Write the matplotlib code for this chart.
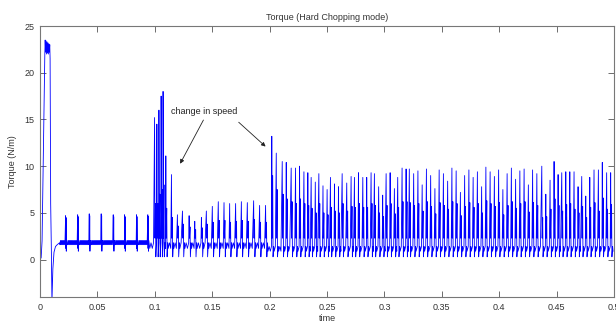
"""Torque waveform, hard chopping mode (MATLAB style figure)."""
import matplotlib
matplotlib.use("Agg")
import matplotlib.pyplot as plt

# start-up transient (time, torque)
start_t = [0.0, 0.0010, 0.0018, 0.0024, 0.0030, 0.0036, 0.0042, 0.0045, 0.0049, 0.0053,
           0.0057, 0.0061, 0.0065, 0.0069, 0.0073, 0.0077, 0.0081, 0.0085, 0.0088, 0.0093,
           0.0099, 0.0104, 0.0112, 0.0122, 0.0135, 0.0150, 0.0170]
start_y = [0.0, 0.2, 2.0, 6.8, 12.0, 17.0, 22.0, 23.5, 22.2, 23.4,
           22.0, 23.3, 22.1, 23.2, 22.0, 23.1, 22.2, 23.0, 21.5, 6.0,
           1.0, -4.5, -1.0, 0.8, 1.4, 1.6, 1.8]

# constant speed: spikes on a ~1.8 Nm floor
seg1_times = [0.0223, 0.0328, 0.0429, 0.0533, 0.0638, 0.0737, 0.0841, 0.0939]
seg1_peaks = [4.7, 4.8, 4.9, 4.9, 4.8, 4.8, 4.8, 4.8]

# speed change at 0.1 s
seg2_times = [0.0998, 0.1018, 0.1036, 0.1055, 0.1072, 0.1096, 0.1145, 0.1197, 0.1241,
              0.1299, 0.1348, 0.1406, 0.1449, 0.1501, 0.1553, 0.1603, 0.1652, 0.1704,
              0.1754, 0.1806, 0.1861, 0.1913, 0.1965]
seg2_peaks = [15.2, 14.5, 16.0, 17.5, 18.0, 11.1, 9.1, 4.8, 5.2,
              4.7, 4.1, 4.5, 5.2, 5.7, 6.2, 6.1, 6.0, 6.0,
              6.2, 6.1, 6.3, 5.8, 5.8]
seg2_second = [6.0, 6.0, 7.0, 7.5, 8.0, 5.5, 4.5, 3.6, 3.8,
               3.5, 3.2, 3.4, 3.8, 4.0, 4.2, 4.2, 4.0, 4.1,
               4.2, 4.1, 4.3, 4.0, 4.0]

# second change at 0.2 s
seg3_times = [0.2019, 0.2058, 0.2110, 0.2145, 0.2188, 0.2226, 0.2261, 0.2299, 0.2333,
              0.2362, 0.2398, 0.2429, 0.2465, 0.2501, 0.2530, 0.2565, 0.2600, 0.2632,
              0.2672, 0.2710, 0.2739, 0.2774, 0.2812, 0.2846, 0.2884, 0.2913, 0.2950,
              0.2985, 0.3015, 0.3050, 0.3087, 0.3116, 0.3154, 0.3189, 0.3217, 0.3255,
              0.3292, 0.3329, 0.3366, 0.3403, 0.3440, 0.3477, 0.3514, 0.3551, 0.3588,
              0.3625, 0.3662, 0.3699, 0.3736, 0.3773, 0.3810, 0.3847, 0.3884, 0.3921,
              0.3958, 0.3995, 0.4032, 0.4069, 0.4106, 0.4143, 0.4180, 0.4217, 0.4254,
              0.4291, 0.4328, 0.4371, 0.4406, 0.4443, 0.4478, 0.4513, 0.4545, 0.4580,
              0.4615, 0.4652, 0.4687, 0.4719, 0.4754, 0.4789, 0.4826, 0.4864, 0.4898,
              0.4936, 0.4971]
seg3_peaks = [13.2, 11.4, 10.5, 10.4, 9.8, 9.8, 10.0, 9.4, 9.3,
              8.8, 8.3, 9.2, 7.9, 7.5, 8.8, 8.1, 7.8, 9.2,
              8.2, 8.9, 8.8, 9.3, 8.8, 8.8, 9.3, 9.2, 7.8,
              6.9, 9.2, 9.3, 7.6, 8.8, 9.8, 9.7, 9.7, 9.2,
              9.5, 8.0, 9.7, 9.0, 7.6, 9.6, 9.2, 8.4, 9.8,
              9.5, 7.2, 9.0, 9.6, 8.8, 9.4, 7.8, 9.9, 9.4,
              8.9, 9.6, 7.5, 9.2, 9.8, 8.6, 9.5, 9.7, 8.0,
              9.6, 9.2, 10.0, 7.0, 8.5, 10.5, 9.1, 9.3, 9.4,
              9.4, 9.4, 7.8, 8.9, 6.8, 8.8, 9.6, 9.6, 10.4,
              9.3, 9.3]
seg3_second = [9.0, 7.5, 7.0, 6.5, 6.2, 6.0, 6.5, 6.0, 5.8,
               5.5, 5.0, 6.0, 5.0, 4.8, 5.6, 5.2, 5.0, 6.0,
               5.2, 5.7, 5.6, 6.0, 5.6, 5.6, 6.0, 5.8, 5.0,
               4.6, 5.8, 6.0, 4.9, 5.6, 6.2, 6.2, 6.1, 5.8,
               6.0, 5.2, 6.2, 5.7, 4.9, 6.1, 5.8, 5.4, 6.2,
               6.0, 4.7, 5.7, 6.1, 5.6, 6.0, 5.0, 6.3, 6.0,
               5.7, 6.1, 4.8, 5.8, 6.2, 5.5, 6.0, 6.2, 5.1,
               6.1, 5.8, 4.5, 4.6, 5.4, 6.5, 5.8, 5.2, 5.9,
               6.0, 5.4, 5.0, 5.7, 4.5, 5.6, 6.1, 5.2, 6.6,
               5.4, 5.9]

# floor band (low, high) and dip level after each spike, per segment
floor1, dip1 = (1.6, 2.05), 0.9
floor2, dip2 = (1.2, 1.8), 0.3
floor3, dip3 = (0.9, 1.4), 0.3
t_end = 0.5


def add_floor(ts, ys, t0, t1, band, step):
    lo, hi = band
    k = 0
    t = t0
    while t < t1:
        ts.append(t)
        ys.append(hi if k % 2 else lo)
        k += 1
        t += step


def add_bold_spike(ts, ys, t, peak, dip, band):
    # several close strokes so the spike reads as a bold mark
    ts += [t, t + 0.0002, t + 0.0004, t + 0.0006, t + 0.0009, t + 0.0013]
    ys += [peak, band[0] - 0.4, peak - 0.2, dip, band[1], band[0]]


def add_spike(ts, ys, t, peak, second, dip, band):
    ts += [t, t + 0.0003, t + 0.0008, t + 0.0011, t + 0.0017]
    ys += [peak, dip + 2.0, second, dip, band[1]]


ts, ys = list(start_t), list(start_y)

prev = start_t[-1]
for t, p in zip(seg1_times, seg1_peaks):
    add_floor(ts, ys, prev + 0.0004, t - 0.0002, floor1, 0.0004)
    add_bold_spike(ts, ys, t, p, dip1, floor1)
    prev = t + 0.0013

for t, p, s in zip(seg2_times, seg2_peaks, seg2_second):
    add_floor(ts, ys, prev + 0.0004, t - 0.0002, floor2, 0.0011)
    add_spike(ts, ys, t, p, s, dip2, floor2)
    prev = t + 0.0017

for t, p, s in zip(seg3_times, seg3_peaks, seg3_second):
    add_floor(ts, ys, prev + 0.0004, t - 0.0002, floor3, 0.0010)
    add_spike(ts, ys, t, p, s, dip3, floor3)
    prev = t + 0.0017
add_floor(ts, ys, prev + 0.0004, t_end, floor3, 0.0010)

plt.rcParams["font.family"] = ["Liberation Sans", "DejaVu Sans"]
plt.rcParams["font.size"] = 6.5

fig = plt.figure(figsize=(6.16, 3.24), dpi=100)
ax = fig.add_axes([40 / 616, 27 / 324, 574 / 616, 271 / 324])

ax.plot(ts, ys, color="#0000ff", linewidth=0.6)

ax.set_xlim(0, 0.5)
ax.set_ylim(-4, 25)
ax.set_xticks([0, 0.05, 0.1, 0.15, 0.2, 0.25, 0.3, 0.35, 0.4, 0.45, 0.5])
ax.set_xticklabels(["0", "0.05", "0.1", "0.15", "0.2", "0.25", "0.3", "0.35",
                    "0.4", "0.45", "0.5"])
ax.set_yticks([0, 5, 10, 15, 20, 25])
ax.tick_params(direction="in", length=4, width=0.6, top=True, right=True,
               colors="#555555", labelcolor="#333333", pad=4)
for sp in ax.spines.values():
    sp.set_color("#777777")
    sp.set_linewidth(0.8)

ax.set_title("Torque (Hard Chopping mode)", fontsize=6.5, color="#333333", pad=4)
ax.set_xlabel("time", color="#333333", labelpad=2)
ax.set_ylabel("Torque (N/m)", color="#333333", labelpad=5)

arrow = dict(arrowstyle="-|>", color="#222222", lw=0.6, mutation_scale=6)
ax.text(0.1430, 15.8, "change in speed", ha="center", va="center",
        fontsize=6.5, color="#222222")
ax.annotate("", xy=(0.1209, 10.0), xytext=(0.1435, 15.2), arrowprops=arrow)
ax.annotate("", xy=(0.1983, 11.9), xytext=(0.1713, 14.9), arrowprops=arrow)

fig.savefig("out.png", dpi=100)
plt.close(fig)
